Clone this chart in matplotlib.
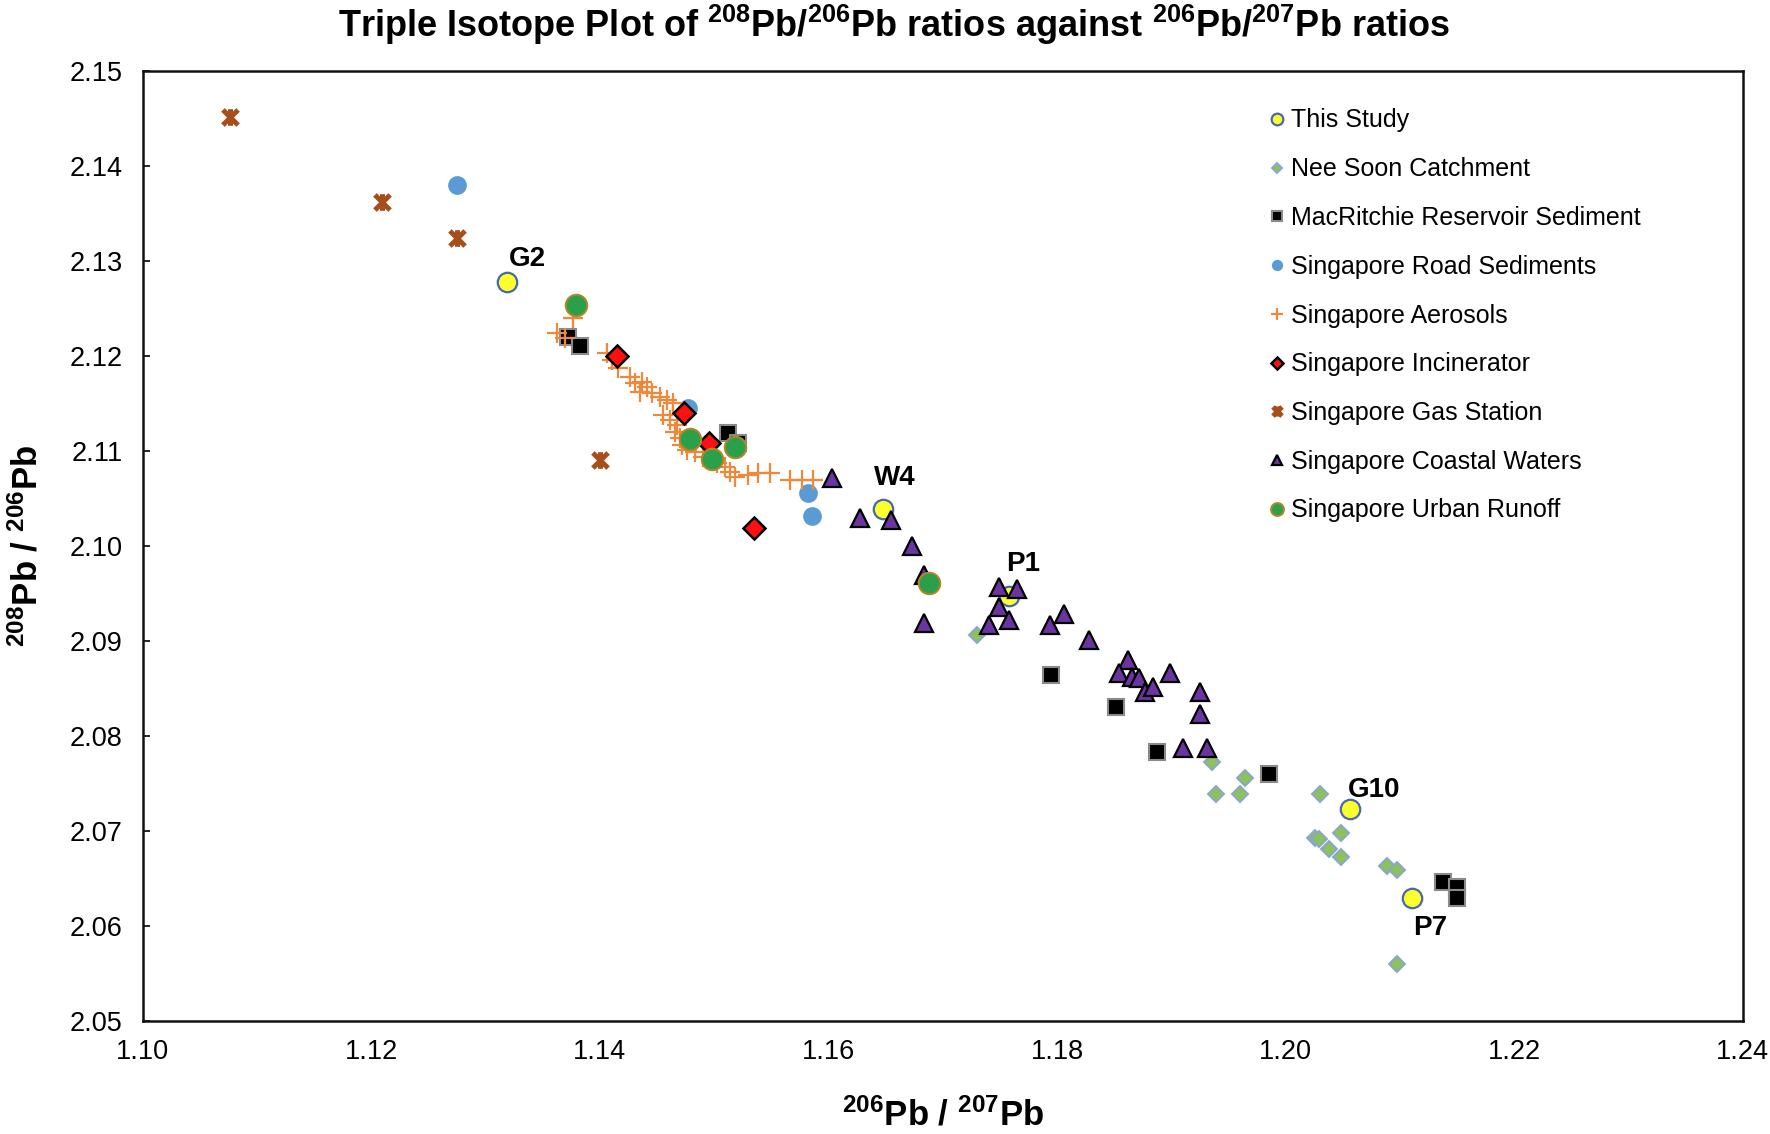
import matplotlib
matplotlib.use("Agg")
import matplotlib.pyplot as plt
from matplotlib.path import Path
import numpy as np

plt.rcParams['font.family'] = ['Liberation Sans', 'DejaVu Sans']
plt.rcParams['mathtext.fontset'] = 'custom'
plt.rcParams['mathtext.rm'] = 'Liberation Sans'
plt.rcParams['mathtext.bf'] = 'Liberation Sans:bold'
plt.rcParams['mathtext.it'] = 'Liberation Sans:italic'

# ---------------- data ----------------
study_x = [1.13185, 1.1648, 1.17583, 1.20564, 1.21104]
study_y = [2.12773, 2.10388, 2.0947, 2.07225, 2.06288]
study_labels = ["G2", "W4", "P1", "G10", "P7"]

neesoon_x = [1.17303, 1.19354, 1.19389, 1.19645, 1.19597, 1.20301, 1.20482,
             1.20258, 1.2029, 1.2038, 1.20482, 1.2089, 1.20973, 1.20973]
neesoon_y = [2.0906, 2.07726, 2.0739, 2.07552, 2.0739, 2.07386, 2.06979,
             2.0692, 2.0691, 2.06808, 2.0672, 2.06629, 2.06586, 2.05597]

macritchie_x = [1.13724, 1.13826, 1.15124, 1.15211, 1.17947, 1.18514, 1.18878,
                1.19855, 1.21375, 1.21497, 1.21497]
macritchie_y = [2.12194, 2.12105, 2.11183, 2.1108, 2.08639, 2.08305, 2.07832,
                2.07597, 2.06463, 2.0641, 2.06288]

road_x = [1.1275, 1.1477, 1.15824, 1.1586]
road_y = [2.1380, 2.1145, 2.10555, 2.10308]

aerosol_x = [1.13762, 1.13622, 1.13695, 1.14059, 1.14103, 1.14161, 1.14263,
             1.14307, 1.14366, 1.14409, 1.14351, 1.14453, 1.14526, 1.14584,
             1.14643, 1.14555, 1.14613, 1.14672, 1.14657, 1.14701, 1.14716,
             1.14759, 1.14832, 1.14905, 1.15022, 1.15095, 1.15139, 1.15182,
             1.15299, 1.15386, 1.15488, 1.15663, 1.15766, 1.15868]
aerosol_y = [2.12394, 2.12236, 2.12183, 2.12025, 2.11955, 2.11867, 2.11780,
             2.11710, 2.11727, 2.11674, 2.11622, 2.11604, 2.11569, 2.11534,
             2.11499, 2.11376, 2.11324, 2.11271, 2.11201, 2.11131, 2.11060,
             2.11008, 2.10990, 2.10937, 2.10867, 2.10832, 2.10780, 2.10727,
             2.10745, 2.10769, 2.10769, 2.10692, 2.10692, 2.10692]

incin_x = [1.14153, 1.14736, 1.14958, 1.15349]
incin_y = [2.1200, 2.11394, 2.1108, 2.10185]

gas_x = [1.10764, 1.1209, 1.12747, 1.1400]
gas_y = [2.1451, 2.1362, 2.13242, 2.1090]

coastal_x = [1.16034, 1.16279, 1.16545, 1.16732, 1.16836, 1.16836, 1.17493,
             1.17653, 1.17493, 1.17408, 1.17583, 1.17939, 1.18061, 1.18277,
             1.18624, 1.18545, 1.18654, 1.18721, 1.1877, 1.18843, 1.18989,
             1.19251, 1.19251, 1.19105, 1.1931]
coastal_y = [2.10708, 2.10288, 2.1027, 2.1000, 2.09692, 2.09189, 2.09568,
             2.0954, 2.09358, 2.09165, 2.09218, 2.09165, 2.09281, 2.09007,
             2.0880, 2.08657, 2.08621, 2.08604, 2.08463, 2.08516, 2.08663,
             2.08463, 2.08228, 2.07867, 2.07867]

runoff_x = [1.13789, 1.14789, 1.14979, 1.15183, 1.16883]
runoff_y = [2.12534, 2.1112, 2.10913, 2.11036, 2.09611]

xticks = [1.10, 1.12, 1.14, 1.16, 1.18, 1.20, 1.22, 1.24]
yticks = [2.05, 2.06, 2.07, 2.08, 2.09, 2.10, 2.11, 2.12, 2.13, 2.14, 2.15]

label_offsets = {"G2": (15, 17), "W4": (8, 22), "P1": (10, 23),
                 "G10": (17, 14), "P7": (13, -21)}

# ---------------- figure ----------------
fig = plt.figure(figsize=(17.7, 11.34), dpi=100)
ax = fig.add_axes([0.0806, 0.0999, 0.9040, 0.8377])

gas_marker = Path([(-1, -1), (1, 1), (-1, 1), (1, -1), (0, -1.1), (0, 1.1)],
                  [Path.MOVETO, Path.LINETO, Path.MOVETO, Path.LINETO,
                   Path.MOVETO, Path.LINETO])

ax.plot(study_x, study_y, 'o', ms=14, mfc='#ffff2e', mec='#4668b0', mew=1.6,
        ls='none', label='This Study', zorder=3)
ax.plot(neesoon_x, neesoon_y, 'D', ms=8, mfc='#8cc25a', mec='#8aa6cc', mew=1.4,
        ls='none', label='Nee Soon Catchment', zorder=4)
ax.plot(macritchie_x, macritchie_y, 's', ms=12, mfc='#000000', mec='#8a8a8a', mew=1.5,
        ls='none', label='MacRitchie Reservoir Sediment', zorder=5)
ax.plot(road_x, road_y, 'o', ms=13.5, mfc='#5b9bd5', mec='#5b9bd5', mew=0,
        ls='none', label='Singapore Road Sediments', zorder=6)
ax.plot(aerosol_x, aerosol_y, '+', ms=15, mec='#f0883a', mew=1.6,
        ls='none', label='Singapore Aerosols', zorder=7)
ax.plot(incin_x, incin_y, 'D', ms=11, mfc='#ff1010', mec='#000000', mew=1.8,
        ls='none', label='Singapore Incinerator', zorder=8)
ax.plot(gas_x, gas_y, ls='none', marker=gas_marker, ms=12, mec='#a64f1c', mew=3.6,
        label='Singapore Gas Station', zorder=9)
ax.plot(coastal_x, coastal_y, '^', ms=12.5, mfc='#6a35a0', mec='#000000', mew=1.6,
        ls='none', label='Singapore Coastal Waters', zorder=10)
ax.plot(runoff_x, runoff_y, 'o', ms=15.5, mfc='#2ba04a', mec='#b5852a', mew=1.4,
        ls='none', label='Singapore Urban Runoff', zorder=11)

for lx, ly, lab in zip(study_x, study_y, study_labels):
    ax.annotate(lab, (lx, ly), xytext=label_offsets[lab], textcoords='offset points',
                ha='center', va='center', fontsize=20, fontweight='bold', zorder=12)

ax.set_xlim(1.10, 1.24)
ax.set_ylim(2.05, 2.15)
ax.set_xticks(xticks)
ax.set_yticks(yticks)
ax.set_xticklabels([f"{v:.2f}" for v in xticks])
ax.set_yticklabels([f"{v:.2f}" for v in yticks])
ax.tick_params(axis='y', direction='in', length=5, width=1.2, labelsize=19.5, pad=14.5)
ax.tick_params(axis='x', direction='in', length=0, labelsize=19.5, pad=13)
for sp in ax.spines.values():
    sp.set_linewidth(1.8)
    sp.set_color('#111111')

ax.set_xlabel(r'$^{\mathbf{206}}$Pb / $^{\mathbf{207}}$Pb', fontsize=25, fontweight='bold',
              labelpad=24)
ax.set_ylabel(r'$^{\mathbf{208}}$Pb / $^{\mathbf{206}}$Pb', fontsize=25, fontweight='bold',
              labelpad=18)

fig.text(0.505, 0.978,
         r'Triple Isotope Plot of $^{\mathbf{208}}$Pb/$^{\mathbf{206}}$Pb ratios against $^{\mathbf{206}}$Pb/$^{\mathbf{207}}$Pb ratios',
         ha='center', va='center', fontsize=26, fontweight='bold')

leg = ax.legend(loc='upper left', bbox_to_anchor=(1257 / 1770, 1 - 96 / 1134),
                bbox_transform=fig.transFigure, frameon=False, fontsize=18,
                markerscale=0.6, handlelength=0.6, handletextpad=0.25,
                labelspacing=0.99, borderpad=0)

fig.savefig('out.png', dpi=100)
